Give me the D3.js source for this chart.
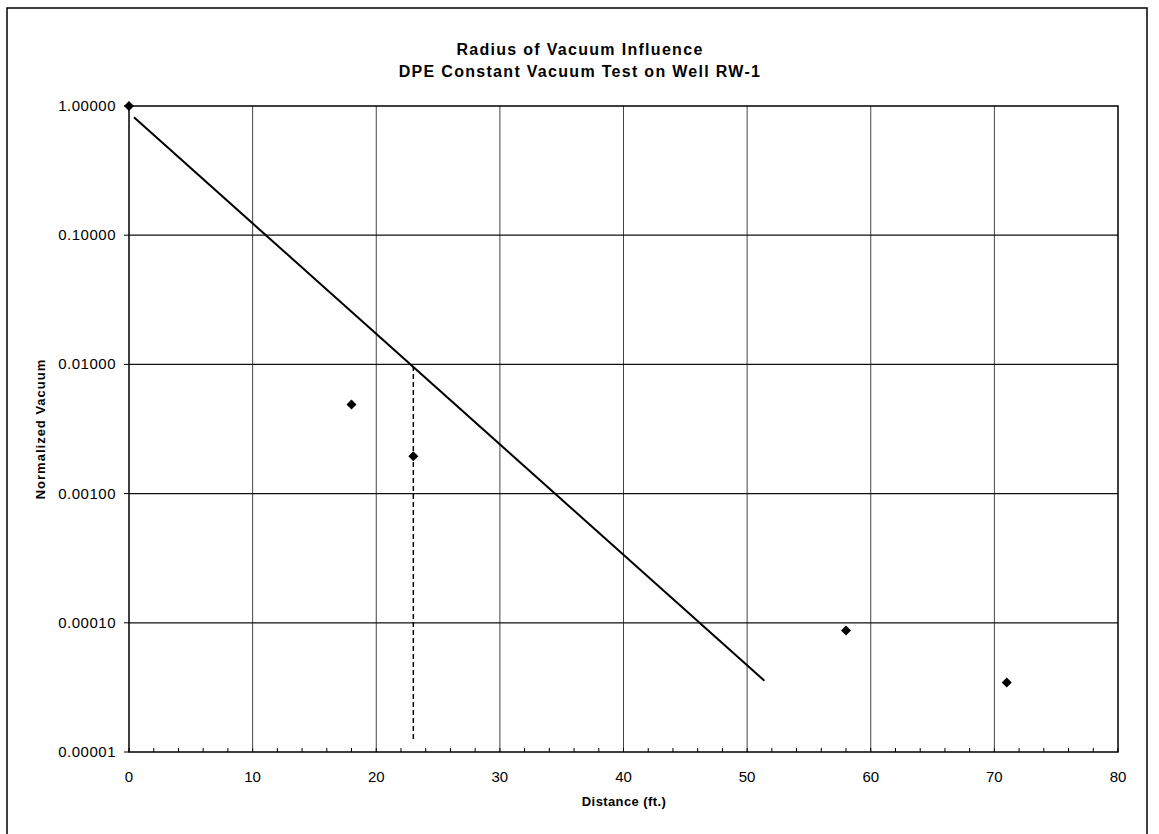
<!DOCTYPE html>
<head>
  <meta charset="utf-8">
  <script src="https://d3js.org/d3.v7.min.js"></script>
  <style>
    body { margin:0; background:#fff; }
    text { font-family: "Liberation Sans", Arial, sans-serif; fill:#000; }
  </style>
</head>

<body>
  <script>
    var width = 1159;
    var height = 834;

    // measured points
    var distance = [0, 18, 23, 58, 71];
    var vacuum = [1.0, 0.0049, 0.00195, 0.000087, 0.0000345];

    // exponential trendline end points
    var trendX = [0.4, 51.4];
    var trendY = [0.818, 0.0000356];

    // radius of influence marker (at 0.01)
    var roiX = [23, 23];
    var roiY = [0.0097, 0.0000121];

    var xTicks = [0, 10, 20, 30, 40, 50, 60, 70, 80];
    var xMinor = d3.range(0, 81, 2);
    var yTicks = [1, 0.1, 0.01, 0.001, 0.0001, 0.00001];

    var plotL = 129, plotR = 1118, plotT = 106, plotB = 752;

    var svg = d3.select("body")
      .append("svg")
      .attr("width", width)
      .attr("height", height);

    // outer frame
    svg.append("rect")
      .attr("x", 7).attr("y", 8)
      .attr("width", 1140).attr("height", 840)
      .attr("fill", "none").attr("stroke", "#000").attr("stroke-width", 1.5);

    var x = d3.scaleLinear().domain([0, 80]).range([plotL, plotR]);
    var y = d3.scaleLog().domain([0.00001, 1]).range([plotB, plotT]);

    // vertical gridlines
    svg.selectAll(".vgrid")
      .data(xTicks.slice(1, -1))
      .enter().append("line")
      .attr("class", "vgrid")
      .attr("x1", function(d) { return x(d); })
      .attr("x2", function(d) { return x(d); })
      .attr("y1", plotT).attr("y2", plotB)
      .attr("stroke", "#444").attr("stroke-width", 1);

    // horizontal gridlines
    svg.selectAll(".hgrid")
      .data(yTicks.slice(1, -1))
      .enter().append("line")
      .attr("class", "hgrid")
      .attr("x1", plotL).attr("x2", plotR)
      .attr("y1", function(d) { return y(d); })
      .attr("y2", function(d) { return y(d); })
      .attr("stroke", "#111").attr("stroke-width", 1.2);

    // plot border
    svg.append("rect")
      .attr("x", plotL).attr("y", plotT)
      .attr("width", plotR - plotL).attr("height", plotB - plotT)
      .attr("fill", "none").attr("stroke", "#000").attr("stroke-width", 1.5);

    // x axis minor ticks (inside)
    svg.selectAll(".xminor")
      .data(xMinor)
      .enter().append("line")
      .attr("x1", function(d) { return x(d); })
      .attr("x2", function(d) { return x(d); })
      .attr("y1", plotB).attr("y2", plotB - 4)
      .attr("stroke", "#000").attr("stroke-width", 1);

    // y axis ticks (outside)
    svg.selectAll(".ytick")
      .data(yTicks)
      .enter().append("line")
      .attr("x1", plotL - 5).attr("x2", plotL)
      .attr("y1", function(d) { return y(d); })
      .attr("y2", function(d) { return y(d); })
      .attr("stroke", "#000").attr("stroke-width", 1);

    // tick labels
    svg.selectAll(".xlabel")
      .data(xTicks)
      .enter().append("text")
      .attr("x", function(d) { return x(d); })
      .attr("y", 782)
      .attr("text-anchor", "middle")
      .style("font-size", "15px")
      .text(function(d) { return d; });

    svg.selectAll(".ylabel")
      .data(yTicks)
      .enter().append("text")
      .attr("x", 116)
      .attr("y", function(d) { return y(d) + 5; })
      .attr("text-anchor", "end")
      .style("font-size", "15px")
      .style("letter-spacing", "0.5px")
      .text(function(d) { return d3.format(".5f")(d); });

    // titles (centred on the chart frame)
    svg.append("text")
      .attr("x", 580).attr("y", 55)
      .attr("text-anchor", "middle")
      .style("font-size", "16px").style("font-weight", "bold")
      .style("letter-spacing", "1.3px")
      .text("Radius of Vacuum Influence");
    svg.append("text")
      .attr("x", 580).attr("y", 77)
      .attr("text-anchor", "middle")
      .style("font-size", "16px").style("font-weight", "bold")
      .style("letter-spacing", "1.3px")
      .text("DPE Constant Vacuum Test on Well RW-1");

    svg.append("text")
      .attr("x", 624).attr("y", 806)
      .attr("text-anchor", "middle")
      .style("font-size", "13px").style("font-weight", "bold")
      .style("letter-spacing", "0.4px")
      .text("Distance (ft.)");

    svg.append("text")
      .attr("transform", "translate(45," + ((plotT + plotB) / 2) + ") rotate(-90)")
      .attr("text-anchor", "middle")
      .style("font-size", "13px").style("font-weight", "bold")
      .style("letter-spacing", "1px")
      .text("Normalized Vacuum");

    var line = d3.line()
      .x(function(d) { return x(d[0]); })
      .y(function(d) { return y(d[1]); });

    // trendline
    svg.append("path")
      .datum(d3.zip(trendX, trendY))
      .attr("d", line)
      .attr("fill", "none").attr("stroke", "#000").attr("stroke-width", 2);

    // dashed marker line
    svg.append("path")
      .datum(d3.zip(roiX, roiY))
      .attr("d", line)
      .attr("fill", "none").attr("stroke", "#000").attr("stroke-width", 1.5)
      .attr("stroke-dasharray", "5,3");

    // data points
    svg.selectAll(".pt")
      .data(d3.zip(distance, vacuum))
      .enter().append("path")
      .attr("class", "pt")
      .attr("transform", function(d) { return "translate(" + x(d[0]) + "," + y(d[1]) + ")"; })
      .attr("d", "M0,-5L5,0L0,5L-5,0Z")
      .attr("fill", "#000");
  </script>
</body>
